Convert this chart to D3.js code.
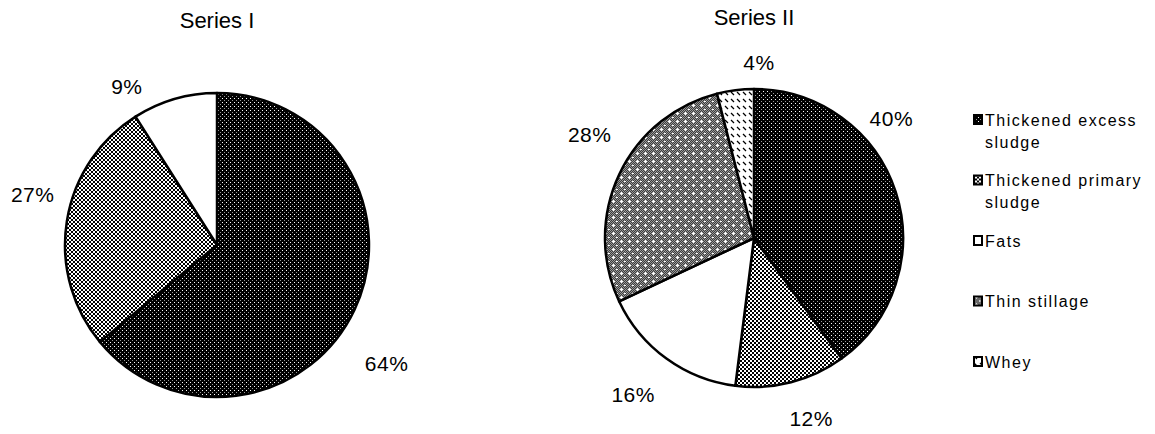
<!DOCTYPE html>
<html>
<head>
<meta charset="utf-8">
<script src="https://cdn.jsdelivr.net/npm/d3@7"></script>
<style>
  body { margin: 0; background: #fff; }
  text { font-family: "Liberation Sans", Arial, sans-serif; fill: #000; }
</style>
</head>
<body>
<script>
// Width and height
var w = 1155;
var h = 434;

// data
var categories = ["Thickened excess sludge", "Thickened primary sludge", "Fats", "Thin stillage", "Whey"];
var titles = ["Series I", "Series II"];
var seriesI = [64, 27, 9, 0, 0];
var seriesII = [40, 12, 16, 28, 4];

// layout (label nudges in degrees from slice middle, and distance from centre)
var charts = [
  { title: titles[0], values: seriesI, cx: 217, cy: 245, r: 152, titleY: 28,
    shift: [9.8, 6.2, -13.5, 0, 0], dist: [207, 191, 182, 0, 0] },
  { title: titles[1], values: seriesII, cx: 754, cy: 238, r: 149, titleY: 25,
    shift: [-23, -3.2, 1.6, 6.9, 8.8], dist: [182, 189, 198, 194, 176] }
];

var svg = d3.select("body")
  .append("svg")
  .attr("width", w)
  .attr("height", h);

// fill patterns, one per category
var defs = svg.append("defs");

var p0 = defs.append("pattern").attr("id", "pat0")
  .attr("patternUnits", "userSpaceOnUse").attr("width", 4).attr("height", 4);
p0.append("rect").attr("width", 4).attr("height", 4).attr("fill", "#000");
p0.append("rect").attr("x", 1).attr("y", 1).attr("width", 1).attr("height", 1).attr("fill", "#fff");
p0.append("rect").attr("x", 3).attr("y", 3).attr("width", 1).attr("height", 1).attr("fill", "#999");

var p1 = defs.append("pattern").attr("id", "pat1")
  .attr("patternUnits", "userSpaceOnUse").attr("width", 4).attr("height", 4);
p1.append("rect").attr("width", 4).attr("height", 4).attr("fill", "#fff");
p1.append("rect").attr("x", 0).attr("y", 0).attr("width", 2).attr("height", 2).attr("fill", "#000");
p1.append("rect").attr("x", 2).attr("y", 2).attr("width", 2).attr("height", 2).attr("fill", "#000");

var p2 = defs.append("pattern").attr("id", "pat2")
  .attr("patternUnits", "userSpaceOnUse").attr("width", 4).attr("height", 4);
p2.append("rect").attr("width", 4).attr("height", 4).attr("fill", "#fff");

var p3 = defs.append("pattern").attr("id", "pat3")
  .attr("patternUnits", "userSpaceOnUse").attr("width", 8).attr("height", 8);
p3.append("rect").attr("width", 8).attr("height", 8).attr("fill", "#3c3c3c");
for (var i = 0; i < 8; i++) {
  for (var j = 0; j < 8; j++) {
    if ((i + j) % 2 == 0) {
      p3.append("rect").attr("x", i).attr("y", j).attr("width", 1).attr("height", 1).attr("fill", "#999");
    }
  }
}
p3.append("rect").attr("x", 2).attr("y", 3).attr("width", 3).attr("height", 1).attr("fill", "#fff");
p3.append("rect").attr("x", 3).attr("y", 2).attr("width", 1).attr("height", 3).attr("fill", "#fff");
p3.append("rect").attr("x", 6).attr("y", 7).attr("width", 2).attr("height", 1).attr("fill", "#fff");

var p4 = defs.append("pattern").attr("id", "pat4")
  .attr("patternUnits", "userSpaceOnUse").attr("width", 6).attr("height", 7);
p4.append("rect").attr("width", 6).attr("height", 7).attr("fill", "#fff");
p4.append("line").attr("x1", 1).attr("y1", 1).attr("x2", 4).attr("y2", 4)
  .attr("stroke", "#000").attr("stroke-width", 1.3);

var fill = d3.scaleOrdinal()
  .domain(categories)
  .range(categories.map(function (d, i) { return "url(#pat" + i + ")"; }));

var pie = d3.pie()
  .sort(null)
  .value(function (d) { return d.value; });

charts.forEach(function (c) {
  var rows = categories.map(function (name, i) {
    return { name: name, value: c.values[i], i: i };
  }).filter(function (d) { return d.value > 0; });

  var arc = d3.arc().innerRadius(0).outerRadius(c.r);

  var g = svg.append("g")
    .attr("transform", "translate(" + c.cx + "," + c.cy + ")");

  g.selectAll("path")
    .data(pie(rows))
    .enter()
    .append("path")
    .attr("d", arc)
    .style("fill", function (d) { return fill(d.data.name); })
    .style("stroke", "#000")
    .style("stroke-width", "2.5px")
    .style("stroke-linejoin", "round");

  g.selectAll("text.lbl")
    .data(pie(rows))
    .enter()
    .append("text")
    .attr("class", "lbl")
    .attr("x", function (d) {
      var a = (d.startAngle + d.endAngle) / 2 + c.shift[d.data.i] * Math.PI / 180;
      return Math.sin(a) * c.dist[d.data.i];
    })
    .attr("y", function (d) {
      var a = (d.startAngle + d.endAngle) / 2 + c.shift[d.data.i] * Math.PI / 180;
      return -Math.cos(a) * c.dist[d.data.i];
    })
    .attr("dy", "0.36em")
    .attr("text-anchor", "middle")
    .style("font-size", "21px")
    .style("letter-spacing", "0.5px")
    .text(function (d) { return d.data.value + "%"; });

  svg.append("text")
    .attr("x", c.cx)
    .attr("y", c.titleY)
    .attr("text-anchor", "middle")
    .style("font-size", "22px")
    .text(c.title);
});

// legend
var ly = d3.scalePoint()
  .domain(categories)
  .range([120, 362]);

var legend = svg.append("g");

var item = legend.selectAll("g")
  .data(categories)
  .enter()
  .append("g")
  .attr("transform", function (d) { return "translate(973," + ly(d) + ")"; });

item.append("rect")
  .attr("x", 1)
  .attr("y", -5)
  .attr("width", 8)
  .attr("height", 9)
  .style("fill", function (d) { return fill(d); })
  .style("stroke", "#000")
  .style("stroke-width", "2px");

item.append("text")
  .attr("x", 12)
  .attr("y", 0)
  .style("font-size", "16px")
  .style("letter-spacing", "1.5px")
  .each(function (d) {
    var lines = [d];
    if (d.length > 14) {
      var k = d.lastIndexOf(" ");
      lines = [d.slice(0, k), d.slice(k + 1)];
    }
    var t = d3.select(this);
    lines.forEach(function (l, n) {
      t.append("tspan").attr("x", 12).attr("dy", n == 0 ? "0.36em" : "22px").text(l);
    });
  });
</script>
</body>
</html>
